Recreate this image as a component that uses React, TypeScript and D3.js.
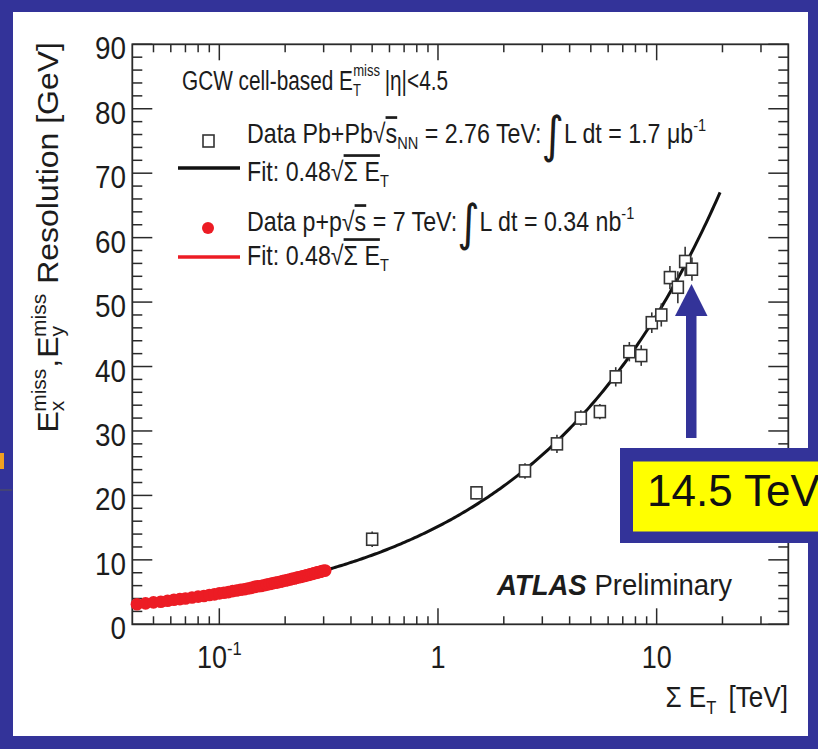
import React from "react";
import * as d3 from "d3";

// ---------- data ----------
const pbX = [0.5, 1.5, 2.5, 3.5, 4.5, 5.5, 6.5, 7.5, 8.5, 9.5, 10.5, 11.5, 12.5, 13.5, 14.5];
const pbY = [13.2, 20.4, 23.8, 28.0, 32.0, 33.0, 38.4, 42.3, 41.7, 46.8, 48.0, 53.8, 52.3, 56.3, 55.1];
const pbErr = [1.2, 1.0, 1.2, 1.4, 1.2, 1.2, 1.5, 1.5, 1.6, 1.6, 1.8, 1.8, 2.5, 2.3, 1.8];

const ppX = [0.042, 0.046, 0.05, 0.054, 0.058, 0.062, 0.066, 0.07, 0.075, 0.08, 0.085, 0.09, 0.095, 0.1,
  0.105, 0.11, 0.115, 0.12, 0.125, 0.13, 0.135, 0.14, 0.145, 0.15, 0.155, 0.16, 0.165, 0.17, 0.175, 0.18,
  0.185, 0.19, 0.195, 0.2, 0.205, 0.21, 0.215, 0.22, 0.225, 0.23, 0.235, 0.24, 0.245, 0.25, 0.255, 0.26,
  0.265, 0.27, 0.275, 0.28, 0.285, 0.29, 0.295, 0.3, 0.305];
const ppY = [3.1, 3.25, 3.4, 3.5, 3.65, 3.8, 3.9, 4.0, 4.15, 4.3, 4.4, 4.55, 4.65, 4.8,
  4.9, 5.0, 5.15, 5.25, 5.35, 5.45, 5.55, 5.65, 5.8, 5.9, 5.95, 6.05, 6.15, 6.25, 6.35, 6.45,
  6.5, 6.6, 6.7, 6.8, 6.85, 6.95, 7.05, 7.1, 7.2, 7.3, 7.35, 7.45, 7.5, 7.6, 7.65, 7.75,
  7.8, 7.9, 7.95, 8.05, 8.1, 8.15, 8.25, 8.3, 8.35];

const fitCoef = 0.48; // Fit: 0.48 sqrt(sum E_T [GeV])
const fitRangePb = [0.3, 19.5];
const fitRangePp = [0.042, 0.3];

const xMajor = [0.1, 1, 10];
const xMajorLabels = ["10", "1", "10"];
const yMajor = [0, 10, 20, 30, 40, 50, 60, 70, 80, 90];

// ---------- layout ----------
const W = 818, H = 749;
const L = 132.3, R = 788.3, T = 44.3, B = 624.3;
const BLUE = "#333399";
const RED = "#ec1c24";
const INK = "#1c1c1c";
const FONT = "'Liberation Sans', Arial, Helvetica, sans-serif";

export default function App() {
  const x = d3.scaleLog().domain([0.04, 40]).range([L, R]);
  const y = d3.scaleLinear().domain([0, 90]).range([B, T]);

  const xMinor: number[] = [];
  for (const dec of [0.01, 0.1, 1, 10]) {
    for (let k = 2; k <= 9; k++) {
      const v = dec * k;
      if (v > 0.04 && v < 40) xMinor.push(v);
    }
  }
  const yMinor = d3.range(0, 91, 2).filter((v) => v % 10 !== 0);

  const fitLine = (r: number[]) => {
    const xs = d3.range(0, 201).map((i) => Math.exp(Math.log(r[0]) + (i / 200) * (Math.log(r[1]) - Math.log(r[0]))));
    return d3.line<number>().x((d) => x(d)).y((d) => y(fitCoef * Math.sqrt(d * 1000)))(xs) || "";
  };

  const txt = (sx: number) => (px: number, py: number) => `translate(${px},${py}) scale(${sx},1)`;
  const tl = txt(0.87);
  const lg = txt(0.86);
  const lgTitle = txt(0.77);

  return (
    <div style={{ position: "absolute", left: 0, top: 0 }}>
      <svg width={W} height={H} style={{ display: "block", fontFamily: FONT }}>
        <rect x={0} y={0} width={W} height={H} fill="#ffffff" />

        {/* plot frame */}
        <rect x={L} y={T} width={R - L} height={B - T} fill="none" stroke="#2a2a2a" strokeWidth={1.8} />

        {/* x ticks */}
        {xMajor.map((v) => (
          <g key={"xM" + v}>
            <line x1={x(v)} x2={x(v)} y1={B} y2={B - 16} stroke="#2a2a2a" strokeWidth={1.5} />
            <line x1={x(v)} x2={x(v)} y1={T} y2={T + 16} stroke="#2a2a2a" strokeWidth={1.5} />
          </g>
        ))}
        {xMinor.map((v) => (
          <g key={"xm" + v}>
            <line x1={x(v)} x2={x(v)} y1={B} y2={B - 8} stroke="#2a2a2a" strokeWidth={1.5} />
            <line x1={x(v)} x2={x(v)} y1={T} y2={T + 8} stroke="#2a2a2a" strokeWidth={1.5} />
          </g>
        ))}
        {/* y ticks */}
        {yMajor.map((v) => (
          <g key={"yM" + v}>
            <line x1={L} x2={L + 20} y1={y(v)} y2={y(v)} stroke="#2a2a2a" strokeWidth={1.5} />
            <line x1={R} x2={R - 20} y1={y(v)} y2={y(v)} stroke="#2a2a2a" strokeWidth={1.5} />
          </g>
        ))}
        {yMinor.map((v) => (
          <g key={"ym" + v}>
            <line x1={L} x2={L + 10} y1={y(v)} y2={y(v)} stroke="#2a2a2a" strokeWidth={1.5} />
            <line x1={R} x2={R - 10} y1={y(v)} y2={y(v)} stroke="#2a2a2a" strokeWidth={1.5} />
          </g>
        ))}

        {/* y tick labels */}
        {yMajor.map((v) => (
          <text key={"yl" + v} transform={tl(126, y(v) + 15)} fontSize={32} textAnchor="end" fill={INK}>
            {v}
          </text>
        ))}
        {/* x tick labels */}
        <text transform={tl(x(xMajor[0]), 668)} fontSize={31} textAnchor="middle" fill={INK}>
          {xMajorLabels[0]}
          <tspan fontSize={19} dy={-13}>-1</tspan>
        </text>
        <text transform={tl(x(xMajor[1]), 668)} fontSize={31} textAnchor="middle" fill={INK}>
          {xMajorLabels[1]}
        </text>
        <text transform={tl(x(xMajor[2]), 668)} fontSize={31} textAnchor="middle" fill={INK}>
          {xMajorLabels[2]}
        </text>

        {/* x axis title */}
        <text transform={tl(788, 707)} fontSize={30} textAnchor="end" fill={INK}>
          Σ E<tspan fontSize={19} dy={7}>T</tspan>
          <tspan dy={-7} dx={14}>[TeV]</tspan>
        </text>

        {/* y axis title */}
        <text transform={`translate(58,42) rotate(-90) scale(1,0.92)`} fontSize={32} textAnchor="end" fill={INK}>
          E<tspan fontSize={21} dy={7}>x</tspan>
          <tspan fontSize={21} dx={-11} dy={-20}>miss</tspan>
          <tspan dy={13} dx={1}>,</tspan>
          <tspan dx={1}>E</tspan>
          <tspan fontSize={21} dy={7}>y</tspan>
          <tspan fontSize={21} dx={-11} dy={-20}>miss</tspan>
          <tspan dy={13} dx={10}>Resolution [GeV]</tspan>
        </text>

        {/* fit lines */}
        <path d={fitLine(fitRangePp)} fill="none" stroke={RED} strokeWidth={3} />
        <path d={fitLine(fitRangePb)} fill="none" stroke="#111" strokeWidth={3} />

        {/* pp data */}
        {ppX.map((v, i) => (
          <circle key={"pp" + i} cx={x(v)} cy={y(ppY[i])} r={6.3} fill={RED} />
        ))}

        {/* PbPb data */}
        {pbX.map((v, i) => {
          const cx = x(v), cy = y(pbY[i]);
          const top = y(pbY[i] + pbErr[i]), bot = y(pbY[i] - pbErr[i]);
          return (
            <g key={"pb" + i} stroke="#333" strokeWidth={1.6} fill="none">
              <line x1={cx} x2={cx} y1={top} y2={cy - 6} />
              <line x1={cx} x2={cx} y1={cy + 6} y2={bot} />
              <rect x={cx - 5.5} y={cy - 6} width={11} height={12} fill="#fff" />
            </g>
          );
        })}

        {/* legend */}
        <text transform={lgTitle(182, 90)} fontSize={27} fill={INK}>
          GCW cell-based E<tspan fontSize={17} dy={6}>T</tspan>
          <tspan fontSize={17} dx={-10} dy={-20}>miss</tspan>
          <tspan dy={14} dx={6}>|η|&lt;4.5</tspan>
        </text>

        <rect x={203} y={135} width={11} height={12} fill="none" stroke="#333" strokeWidth={1.6} />
        <text transform={lg(247, 143)} fontSize={27} fill={INK}>
          Data Pb+Pb√<tspan style={{ textDecoration: "overline" }}>s</tspan>
          <tspan fontSize={17} dy={6}>NN</tspan>
          <tspan dy={-6}>{" = 2.76 TeV:"}</tspan>
          <tspan fontFamily="'DejaVu Sans'" fontSize={50} dy={9}>∫</tspan>
          <tspan dy={-9}>L dt = 1.7 μb</tspan>
          <tspan fontSize={17} dy={-12}>-1</tspan>
        </text>

        <line x1={178} x2={240} y1={168} y2={168} stroke="#111" strokeWidth={3.5} />
        <text transform={lg(247, 181)} fontSize={27} fill={INK}>
          Fit: 0.48√<tspan style={{ textDecoration: "overline" }}>Σ E</tspan>
          <tspan fontSize={17} dy={6}>T</tspan>
        </text>

        <circle cx={208} cy={228} r={6} fill={RED} />
        <text transform={lg(247, 231)} fontSize={27} fill={INK}>
          Data p+p√<tspan style={{ textDecoration: "overline" }}>s</tspan>
          <tspan>{" = 7 TeV:"}</tspan>
          <tspan fontFamily="'DejaVu Sans'" fontSize={50} dy={9}>∫</tspan>
          <tspan dy={-9}>L dt = 0.34 nb</tspan>
          <tspan fontSize={17} dy={-12}>-1</tspan>
        </text>

        <line x1={178} x2={240} y1={257} y2={257} stroke={RED} strokeWidth={3.5} />
        <text transform={lg(247, 265)} fontSize={27} fill={INK}>
          Fit: 0.48√<tspan style={{ textDecoration: "overline" }}>Σ E</tspan>
          <tspan fontSize={17} dy={6}>T</tspan>
        </text>

        {/* ATLAS Preliminary */}
        <text transform={txt(0.95)(497, 595)} fontSize={29} fill={INK}>
          <tspan fontWeight="bold" fontStyle="italic">ATLAS</tspan>
          <tspan>{" Preliminary"}</tspan>
        </text>

        {/* slide frame */}
        <rect x={0} y={0} width={W} height={12} fill={BLUE} />
        <rect x={0} y={736} width={W} height={H - 736} fill={BLUE} />
        <rect x={0} y={0} width={13} height={H} fill={BLUE} />
        <rect x={808} y={0} width={10} height={H} fill={BLUE} />
        <rect x={0} y={453} width={4} height={16} fill="#f0a020" />
        <line x1={0} x2={12} y1={490} y2={490} stroke="#555" strokeWidth={1} />

        {/* arrow */}
        <rect x={686} y={312} width={10.5} height={126} fill={BLUE} />
        <path d={`M675,316 L707.5,316 L691.5,284 Z`} fill={BLUE} />

        {/* 14.5 TeV box */}
        <rect x={620} y={448} width={W - 620} height={95} fill={BLUE} />
        <rect x={633} y={461.5} width={W - 633} height={70} fill="#ffff00" />
        <text x={647} y={506} fontSize={44} fill="#111" fontFamily={FONT}>14.5 TeV</text>
      </svg>
    </div>
  );
}
